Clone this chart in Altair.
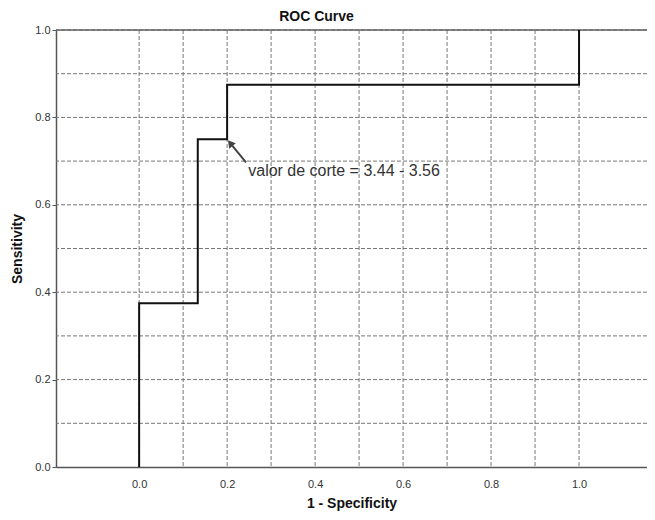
import altair as alt
import pandas as pd

# ROC curve (step path)
curve_x = [0.0, 0.0, 0.1333, 0.1333, 0.2, 0.2, 1.0, 1.0]
curve_y = [0.0, 0.375, 0.375, 0.75, 0.75, 0.875, 0.875, 1.0]

# grid positions and tick labels
grid_x = [0.0, 0.1, 0.2, 0.3, 0.4, 0.5, 0.6, 0.7, 0.8, 0.9, 1.0]
grid_y = [0.1, 0.2, 0.3, 0.4, 0.5, 0.6, 0.7, 0.8, 0.9, 1.0]
tick_vals = [0.0, 0.2, 0.4, 0.6, 0.8, 1.0]

# annotation
arrow_x = [0.243, 0.207]
arrow_y = [0.697, 0.741]
label_x = [0.248]
label_y = [0.678]
label_text = ["valor de corte = 3.44 - 3.56"]

FONT = "Liberation Sans"

curve_df = pd.DataFrame({"x": curve_x, "y": curve_y, "o": list(range(len(curve_x)))})
gx_df = pd.DataFrame({"gx": grid_x})
gy_df = pd.DataFrame({"gy": grid_y})
arrow_df = pd.DataFrame({"x": arrow_x, "y": arrow_y, "o": [0, 1]})
head_df = pd.DataFrame({"x": arrow_x[1:], "y": arrow_y[1:]})
label_df = pd.DataFrame({"x": label_x, "y": label_y, "t": label_text})

xscale = alt.Scale(domain=[-0.189, 1.1545], nice=False, zero=False)
yscale = alt.Scale(domain=[0, 1], nice=False, zero=False)

xaxis = alt.Axis(values=tick_vals, format=".1f", ticks=False, grid=False,
                 domainColor="#555555", domainWidth=1.5,
                 labelFont=FONT, labelFontSize=11, labelColor="#333333", labelPadding=11,
                 title="1 - Specificity", titleFont=FONT, titleFontSize=14,
                 titleFontWeight="bold", titleColor="#111111", titlePadding=7)
yaxis = alt.Axis(values=tick_vals, format=".1f", ticks=True, tickSize=4, tickColor="#555555",
                 grid=False, domainColor="#555555", domainWidth=1.5,
                 labelFont=FONT, labelFontSize=11, labelColor="#333333", labelPadding=2,
                 title="Sensitivity", titleFont=FONT, titleFontSize=14,
                 titleFontWeight="bold", titleColor="#111111", titlePadding=10)

vgrid = alt.Chart(gx_df).mark_rule(color="#777777", strokeDash=[4, 2], strokeWidth=1).encode(
    x=alt.X("gx:Q", scale=xscale, axis=xaxis)
)
hgrid = alt.Chart(gy_df).mark_rule(color="#777777", strokeDash=[4, 2], strokeWidth=1).encode(
    y=alt.Y("gy:Q", scale=yscale, axis=yaxis)
)
topline = alt.Chart(pd.DataFrame({"gy": [1.0]})).mark_rule(color="#666666", strokeWidth=1.5).encode(
    y=alt.Y("gy:Q", scale=yscale)
)

line = alt.Chart(curve_df).mark_line(color="#111111", strokeWidth=2, interpolate="linear").encode(
    x=alt.X("x:Q", scale=xscale),
    y=alt.Y("y:Q", scale=yscale),
    order="o:Q",
)

arrow = alt.Chart(arrow_df).mark_line(color="#444444", strokeWidth=2).encode(
    x=alt.X("x:Q", scale=xscale),
    y=alt.Y("y:Q", scale=yscale),
    order="o:Q",
)
head = alt.Chart(head_df).mark_point(shape="triangle-up", filled=True, color="#444444",
                                     size=70, angle=321, opacity=1).encode(
    x=alt.X("x:Q", scale=xscale),
    y=alt.Y("y:Q", scale=yscale),
)
label = alt.Chart(label_df).mark_text(align="left", baseline="middle", font=FONT,
                                      fontSize=16, color="#333333").encode(
    x=alt.X("x:Q", scale=xscale),
    y=alt.Y("y:Q", scale=yscale),
    text="t:N",
)

chart = alt.layer(vgrid, hgrid, topline, line, arrow, head, label).properties(
    width=591,
    height=437,
    title=alt.TitleParams("ROC Curve", font=FONT, fontSize=14, fontWeight="bold",
                          color="#111111", anchor="middle", dx=-35, offset=0),
    autosize=alt.AutoSizeParams(type="none"),
    padding={"left": 48, "top": 22, "right": 0, "bottom": 45},
).configure_view(stroke=None).configure(background="white")

chart.save("out.html", embed_options={"renderer": "svg", "actions": False})
